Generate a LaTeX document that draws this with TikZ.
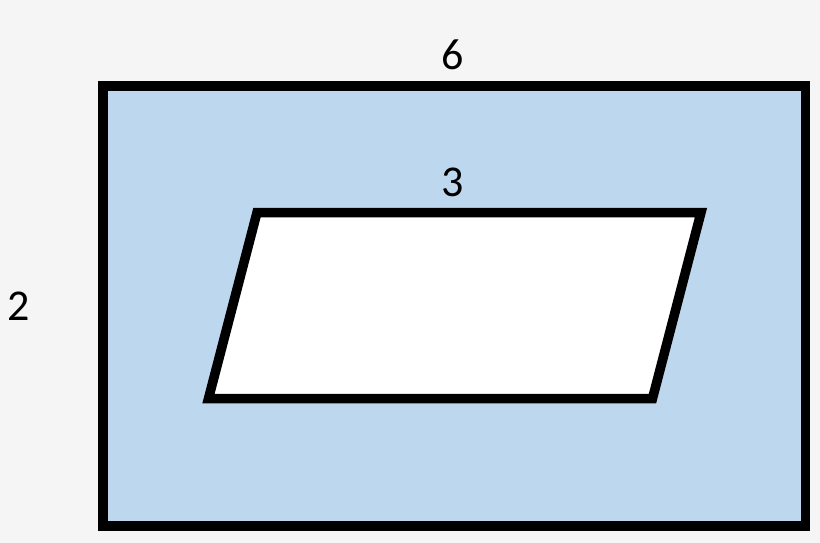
\documentclass[tikz,border=0pt]{standalone}
\usepackage{fontspec}
\setmainfont{Carlito}
\definecolor{bgc}{RGB}{245,245,245}
\definecolor{fillblue}{RGB}{189,215,238}
\tikzset{
  shapeline/.style={draw=black, line width=9.5pt, line join=miter},
  lbl/.style={inner sep=0pt, font=\fontsize{44}{44}\selectfont}
}
\begin{document}
\begin{tikzpicture}[x=1pt,y=-1pt]
\fill[bgc] (0,0) rectangle (820,543);
\useasboundingbox (0,0) rectangle (820,543);
\draw[shapeline, fill=fillblue] (103,86) rectangle (805.5,526);
\coordinate (tl) at (257,212.5);
\coordinate (tr) at (701,212.5);
\coordinate (br) at (652.5,398.5);
\coordinate (bl) at (208.5,398.5);
\draw[shapeline, fill=white] (tl) -- (tr) -- (br) -- (bl) -- cycle;
\node[lbl] (six) at (453,55) {6};
\node[lbl] (three) at (452.5,182) {3};
\node[lbl] (two) at (19,306) {2};
\end{tikzpicture}
\end{document}
